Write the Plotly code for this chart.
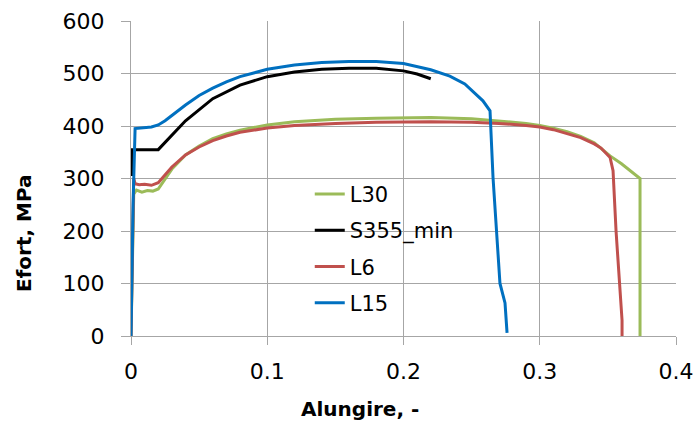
import plotly.graph_objects as go

# L30 (green)
l30_x = [0, 0.001, 0.002, 0.004, 0.008, 0.012, 0.016, 0.02, 0.025, 0.03, 0.04, 0.05, 0.06, 0.07, 0.08,
         0.1, 0.12, 0.15, 0.18, 0.2, 0.22, 0.25, 0.27, 0.29, 0.3, 0.31, 0.32, 0.33, 0.34, 0.3516, 0.36,
         0.3736, 0.3736]
l30_y = [0, 150, 270, 278, 274, 277, 276, 280, 300, 318, 345, 362, 376, 385, 392,
         402, 408, 413, 415, 416, 416, 414, 410, 405, 401, 396, 389, 380, 368, 343, 328,
         300, 0]

# S355_min (black)
s355_x = [0.001, 0.001, 0.02, 0.04, 0.06, 0.08, 0.1, 0.12, 0.14, 0.16, 0.18, 0.2, 0.21, 0.22]
s355_y = [305, 355, 355, 410, 452, 478, 494, 503, 508, 510, 510, 505, 499, 490]

# L6 (red)
l6_x = [0, 0.001, 0.002, 0.003, 0.006, 0.01, 0.015, 0.02, 0.025, 0.03, 0.04, 0.05, 0.06, 0.07, 0.08,
        0.1, 0.12, 0.15, 0.18, 0.2, 0.22, 0.25, 0.27, 0.29, 0.3, 0.31, 0.32, 0.33, 0.34, 0.345, 0.3516,
        0.3538, 0.356, 0.3589, 0.3604, 0.3604]
l6_y = [0, 200, 300, 290, 288, 289, 287, 292, 308, 322, 345, 360, 372, 381, 388,
        396, 401, 405, 407, 408, 408, 407, 405, 401, 398, 393, 386, 378, 366, 358, 340,
        315, 200, 100, 30, 0]

# L15 (blue)
l15_x = [0, 0.0015, 0.003, 0.006, 0.01, 0.015, 0.02, 0.025, 0.03, 0.04, 0.05, 0.06, 0.07, 0.08,
         0.1, 0.12, 0.14, 0.16, 0.18, 0.2, 0.22, 0.234, 0.245, 0.2525, 0.2583, 0.2635, 0.2657,
         0.2708, 0.2745, 0.276]
l15_y = [0, 250, 395, 396, 397, 398, 402, 410, 420, 440, 458, 472, 484, 494,
         508, 516, 521, 523, 523, 519, 507, 495, 480, 461, 448, 429, 302,
         100, 63, 6]

x_ticks = [0, 0.1, 0.2, 0.3, 0.4]
x_tick_labels = ["0", "0.1", "0.2", "0.3", "0.4"]
y_ticks = [0, 100, 200, 300, 400, 500, 600]

x_title = "Alungire, -"
y_title = "Efort, MPa"

font_family = "DejaVu Sans, sans-serif"
grid = "#A6A6A6"

fig = go.Figure()
series = [
    ("L30", l30_x, l30_y, "#9BBB59"),
    ("S355_min", s355_x, s355_y, "#000000"),
    ("L6", l6_x, l6_y, "#C0504D"),
    ("L15", l15_x, l15_y, "#0070C0"),
]
for i, (name, xs, ys, col) in enumerate(series):
    fig.add_trace(go.Scatter(x=xs, y=ys, mode="lines", name=name,
                             line=dict(color=col, width=3), legendgroup=str(i)))

fig.update_layout(
    width=696, height=424,
    margin=dict(l=131, r=20, t=21, b=88, autoexpand=False),
    plot_bgcolor="white", paper_bgcolor="white",
    font=dict(family=font_family, size=22, color="#000000"),
    legend=dict(x=0.328, y=0.515, xanchor="left", yanchor="top",
                bgcolor="rgba(0,0,0,0)", font=dict(size=21),
                tracegroupgap=6),
    showlegend=True,
    annotations=[
        dict(text="<b>" + x_title + "</b>", xref="paper", yref="paper",
             x=(360 - 131) / 545, y=(336 - 409) / 315, xanchor="center", yanchor="middle",
             showarrow=False, font=dict(size=20)),
        dict(text="<b>" + y_title + "</b>", xref="paper", yref="paper",
             x=(24 - 131) / 545, y=(336 - 233) / 315, xanchor="center", yanchor="middle",
             textangle=-90, showarrow=False, font=dict(size=20)),
    ],
)
fig.update_xaxes(range=[0, 0.4], tickvals=x_ticks, ticktext=x_tick_labels,
                 showgrid=True, gridcolor=grid, gridwidth=1,
                 showline=True, linecolor=grid, linewidth=1,
                 ticks="outside", ticklen=8, tickcolor=grid,
                 ticklabelstandoff=8, zeroline=False, automargin=False)
fig.update_yaxes(range=[0, 600], tickvals=y_ticks,
                 showgrid=True, gridcolor=grid, gridwidth=1,
                 showline=True, linecolor=grid, linewidth=1,
                 ticks="outside", ticklen=9, tickcolor=grid,
                 ticklabelstandoff=12, zeroline=False, automargin=False)

fig.write_html("out.html", config={"displayModeBar": False},
               post_script="document.body.style.margin='0';")
